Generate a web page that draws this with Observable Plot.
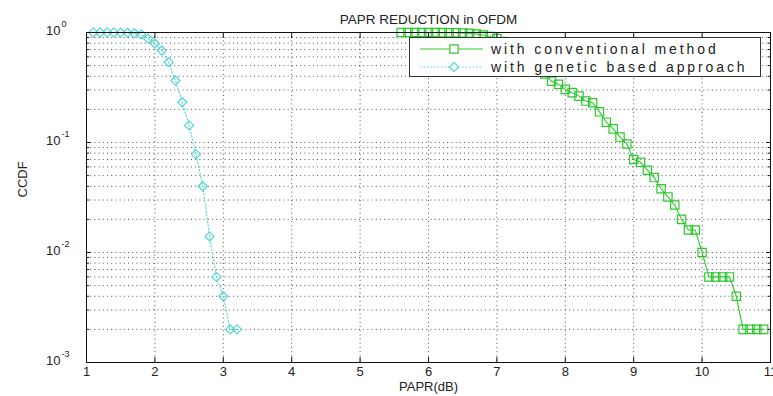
<!DOCTYPE html>
<html>
<head>
<meta charset="utf-8">
<script src="https://cdn.jsdelivr.net/npm/d3@7"></script>
<script src="https://cdn.jsdelivr.net/npm/@observablehq/plot@0.6"></script>
<style>
  body { margin: 0; background: #fff; }
  #wrap { position: relative; width: 773px; height: 396px; overflow: hidden; }
  #legend { position: absolute; left: 409px; top: 37px; width: 352px; height: 40px;
    border: 1px solid #333; background: #fff; box-sizing: border-box;
    font-family: "Liberation Sans", Arial, sans-serif; font-size: 14px; letter-spacing: 2.9px; color: #222; }
  #legend .row { position: absolute; left: 0; height: 18px; width: 100%; }
  #legend svg { position: absolute; left: 10px; top: 0; }
  #legend span { position: absolute; left: 81px; top: 0; line-height: 18px; white-space: nowrap; }
</style>
</head>
<body>
<div id="wrap"></div>
<script>
// ---- data ----
const conventionalPAPR = [5.6,5.7,5.8,5.9,6.0,6.1,6.2,6.3,6.4,6.5,6.6,6.7,6.8,6.9,7.0,7.1,7.2,7.3,7.4,7.5,7.6,7.7,7.8,7.9,8.0,8.1,8.2,8.3,8.4,8.5,8.6,8.7,8.8,8.9,9.0,9.1,9.2,9.3,9.4,9.5,9.6,9.7,9.8,9.9,10.0,10.1,10.2,10.3,10.4,10.5,10.6,10.7,10.8,10.9];
const conventionalCCDF = [1,1,1,1,1,1,0.998,0.996,0.994,0.99,0.984,0.97,0.95,0.92,0.88,0.83,0.77,0.70,0.63,0.56,0.49,0.42,0.36,0.338,0.304,0.284,0.264,0.238,0.23,0.19,0.153,0.133,0.112,0.097,0.07,0.066,0.056,0.048,0.038,0.032,0.027,0.02,0.016,0.016,0.01,0.006,0.006,0.006,0.006,0.004,0.002,0.002,0.002,0.002];
const geneticPAPR = [1.1,1.2,1.3,1.4,1.5,1.6,1.7,1.8,1.9,2.0,2.1,2.2,2.3,2.4,2.5,2.6,2.7,2.8,2.9,3.0,3.1,3.2];
const geneticCCDF = [1,1,1,1,0.998,0.994,0.984,0.96,0.882,0.794,0.686,0.537,0.366,0.232,0.143,0.078,0.04,0.014,0.006,0.004,0.002,0.002];
const seriesNames = ["with conventional method", "with genetic based approach"];
const xTicks = [1,2,3,4,5,6,7,8,9,10,11];
const yDecades = [1, 0.1, 0.01, 0.001];
const yExponents = ["0", "-1", "-2", "-3"];
const minorMantissas = [2,3,4,5,6,7,8,9];
const titleText = "PAPR REDUCTION in OFDM";
const xLabel = "PAPR(dB)";
const yLabel = "CCDF";

const green = "#2bc92b";
const cyan = "#55d5d5";
const font = "Liberation Sans, Arial, sans-serif";

const conv = conventionalPAPR.map((x, i) => ({x, y: conventionalCCDF[i]}));
const gen = geneticPAPR.map((x, i) => ({x, y: geneticCCDF[i]}));
const yMinor = yDecades.slice(1).flatMap(d => minorMantissas.map(m => +(m * d).toPrecision(3)));
const yGrid = [...yDecades.slice(1, 3), ...yMinor];
const gridStyle = {stroke: "#333", strokeOpacity: 0.85, strokeDasharray: "1,3.2", strokeWidth: 1};

const chart = Plot.plot({
  width: 773,
  height: 396,
  marginLeft: 86,
  marginRight: 3,
  marginTop: 32,
  marginBottom: 34,
  style: {fontFamily: font, fontSize: "13px", background: "#fff", color: "#222", overflow: "visible"},
  x: {domain: [1, 11]},
  y: {type: "log", domain: [0.001, 1]},
  marks: [
    Plot.gridX(xTicks.slice(1, -1), gridStyle),
    Plot.gridY(yGrid, gridStyle),
    Plot.line(conv, {x: "x", y: "y", stroke: green, strokeWidth: 1.1}),
    Plot.dot(conv, {x: "x", y: "y", symbol: "square", r: 4.7, stroke: green, fill: "none", strokeWidth: 1.2}),
    Plot.line(gen, {x: "x", y: "y", stroke: cyan, strokeWidth: 1.1, strokeDasharray: "1.5,2"}),
    Plot.dot(gen, {x: "x", y: "y", symbol: "diamond2", r: 4.1, stroke: cyan, fill: "none", strokeWidth: 1.2}),
    Plot.frame({stroke: "#111"}),
    // inward tick marks
    Plot.axisX(xTicks, {anchor: "bottom", tickSize: -5, fill: "none", label: null, stroke: "#111"}),
    Plot.axisX(xTicks, {anchor: "top", tickSize: -5, fill: "none", label: null, stroke: "#111"}),
    Plot.axisY(yDecades, {anchor: "left", tickSize: -5, fill: "none", label: null, stroke: "#111"}),
    Plot.axisY(yMinor, {anchor: "left", tickSize: -3, fill: "none", label: null, stroke: "#111"}),
    Plot.axisY(yDecades, {anchor: "right", tickSize: -5, fill: "none", label: null, stroke: "#111"}),
    Plot.axisY(yMinor, {anchor: "right", tickSize: -3, fill: "none", label: null, stroke: "#111"}),
    // x tick labels
    Plot.axisX(xTicks, {anchor: "bottom", tickSize: 0, tickPadding: 4, label: null, tickFormat: d => String(d), fontSize: 13}),
    // y tick labels 10^n
    Plot.text(yDecades, {y: d => d, frameAnchor: "left", text: () => "10", textAnchor: "end", dx: -26, dy: -2, fontSize: 13}),
    Plot.text(yDecades, {y: d => d, frameAnchor: "left", text: (d, i) => yExponents[i], textAnchor: "start", dx: -25, dy: -8, fontSize: 9}),
    // title and axis labels
    Plot.text([titleText], {frameAnchor: "top", text: d => d, dy: -18, fontSize: 13.5}),
    Plot.text([xLabel], {frameAnchor: "bottom", text: d => d, dy: 28, fontSize: 13}),
    Plot.text([yLabel], {frameAnchor: "left", text: d => d, dx: -64, rotate: -90, fontSize: 13})
  ]
});

const wrap = document.getElementById("wrap");
wrap.appendChild(chart);

// legend
const legend = document.createElement("div");
legend.id = "legend";
const styles = [
  {color: green, dash: null, symbol: d3.symbolSquare, size: Math.PI * 4.7 * 4.7},
  {color: cyan, dash: "1.5,2", symbol: d3.symbolDiamond2, size: Math.PI * 4.1 * 4.1}
];
seriesNames.forEach((name, i) => {
  const row = document.createElement("div");
  row.className = "row";
  row.style.top = (i === 0 ? 2 : 20) + "px";
  const s = styles[i];
  const svg = d3.create("svg").attr("width", 64).attr("height", 18);
  svg.append("line").attr("x1", 0).attr("x2", 63).attr("y1", 9).attr("y2", 9)
    .attr("stroke", s.color).attr("stroke-width", 1.1).attr("stroke-dasharray", s.dash);
  svg.append("path").attr("d", d3.symbol(s.symbol, s.size)()).attr("transform", "translate(34,9)")
    .attr("fill", "#fff").attr("stroke", s.color).attr("stroke-width", 1.2);
  row.appendChild(svg.node());
  const span = document.createElement("span");
  span.textContent = name;
  row.appendChild(span);
  legend.appendChild(row);
});
wrap.appendChild(legend);
</script>
</body>
</html>
